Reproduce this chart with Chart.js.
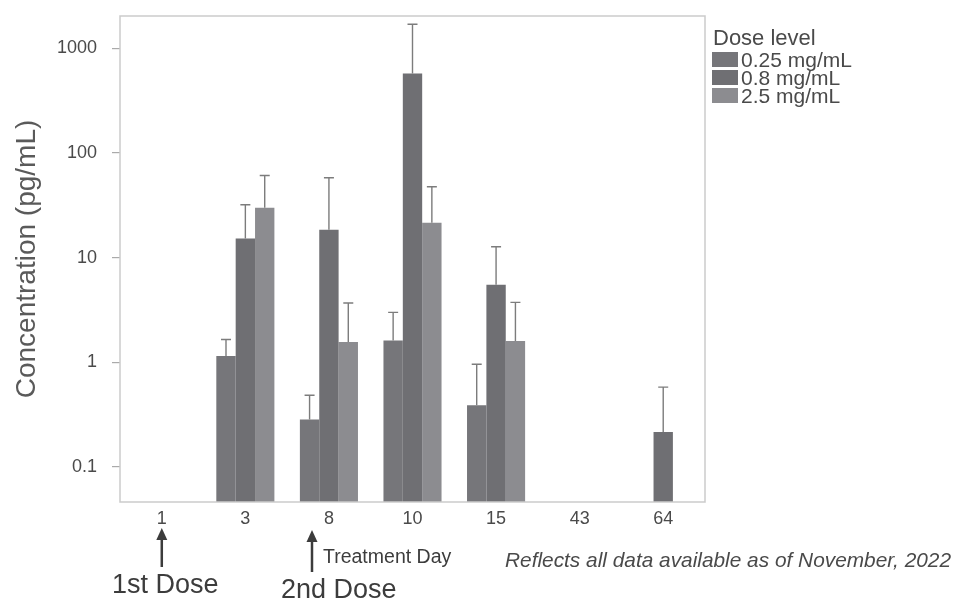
<!DOCTYPE html>
<html>
<head>
<meta charset="utf-8">
<script src="https://cdn.jsdelivr.net/npm/chart.js@4.4.0/dist/chart.umd.min.js"></script>
<style>
  html, body { margin: 0; padding: 0; background: #fff; }
  #wrap { width: 955px; height: 600px; position: relative; }
</style>
</head>
<body>
<div id="wrap"><canvas id="myChart" width="955" height="600"></canvas></div>
<script>
// treatment days and dose groups
var days = ['1', '3', '8', '10', '15', '43', '64'];
var doseLabels = ['0.25 mg/mL', '0.8 mg/mL', '2.5 mg/mL'];
var yTicks = [0.1, 1, 10, 100, 1000];

// mean concentration (pg/mL) per day
var low = [null, 1.15, 0.284, 1.62, 0.39, null, null];
var mid = [null, 15.2, 18.5, 575, 5.5, null, 0.216];
var high = [null, 30, 1.56, 21.6, 1.6, null, null];

// upper end of the error bar
var lowErr = [null, 1.65, 0.485, 3.0, 0.96, null, null];
var midErr = [null, 32, 58, 1700, 12.7, null, 0.58];
var highErr = [null, 61, 3.69, 47.6, 3.74, null, null];

var colors = ['#76767a', '#6f6f73', '#8c8c90'];
var FONT = "'Liberation Sans', Arial, sans-serif";

var errors = [lowErr, midErr, highErr];

const errorBars = {
    id: 'errorBars',
    afterDatasetsDraw(chart) {
        const ctx = chart.ctx;
        const yScale = chart.scales.y;
        ctx.save();
        ctx.strokeStyle = '#7c7c7c';
        ctx.lineWidth = 1.4;
        chart.data.datasets.forEach((ds, d) => {
            const meta = chart.getDatasetMeta(d);
            meta.data.forEach((bar, i) => {
                const top = errors[d][i];
                if (top == null || ds.data[i] == null) return;
                const yt = yScale.getPixelForValue(top);
                ctx.beginPath();
                ctx.moveTo(bar.x, bar.y);
                ctx.lineTo(bar.x, yt);
                ctx.moveTo(bar.x - 5, yt);
                ctx.lineTo(bar.x + 5, yt);
                ctx.stroke();
            });
        });
        ctx.restore();
    }
};

const frame = {
    id: 'frame',
    afterDraw(chart) {
        const ctx = chart.ctx;
        const a = chart.chartArea;
        ctx.save();
        ctx.strokeStyle = '#cbcbcb';
        ctx.lineWidth = 1.5;
        ctx.strokeRect(a.left, a.top, a.right - a.left, a.bottom - a.top);

        // legend
        ctx.fillStyle = '#4a4a4a';
        ctx.font = '22px ' + FONT;
        ctx.textBaseline = 'alphabetic';
        ctx.fillText('Dose level', 713, 45);
        ctx.font = '21px ' + FONT;
        doseLabels.forEach((lab, i) => {
            const y = 52 + i * 18;
            ctx.fillStyle = colors[i];
            ctx.fillRect(712, y, 26, 15);
            ctx.fillStyle = '#4a4a4a';
            ctx.fillText(lab, 741, y + 15);
        });

        // dose arrows
        const xs = chart.scales.x;
        const arrow = (x, yTip, yTail) => {
            ctx.strokeStyle = '#3c3c3c';
            ctx.fillStyle = '#3c3c3c';
            ctx.lineWidth = 2.5;
            ctx.beginPath();
            ctx.moveTo(x, yTip + 8);
            ctx.lineTo(x, yTail);
            ctx.stroke();
            ctx.beginPath();
            ctx.moveTo(x, yTip);
            ctx.lineTo(x - 5.5, yTip + 12);
            ctx.lineTo(x + 5.5, yTip + 12);
            ctx.closePath();
            ctx.fill();
        };
        arrow(xs.getPixelForValue(0), 528, 567);
        arrow(312, 530, 572);

        ctx.fillStyle = '#3c3c3c';
        ctx.font = '27px ' + FONT;
        ctx.fillText('1st Dose', 112, 593, 108);
        ctx.fillText('2nd Dose', 281, 598, 117);
        ctx.font = '19.5px ' + FONT;
        ctx.fillText('Treatment Day', 323, 563, 130);
        ctx.fillStyle = '#4a4a4a';
        ctx.font = 'italic 21px ' + FONT;
        ctx.fillText('Reflects all data available as of November, 2022', 505, 567, 446);
        ctx.restore();
    }
};

const noPad = (s) => { s.paddingTop = 0; s.paddingBottom = 0; s.paddingLeft = 0; s.paddingRight = 0; };

const data = {
    labels: days,
    datasets: [
        { label: doseLabels[0], data: low, backgroundColor: colors[0] },
        { label: doseLabels[1], data: mid, backgroundColor: colors[1] },
        { label: doseLabels[2], data: high, backgroundColor: colors[2] }
    ]
};

const config = {
    type: 'bar',
    data: data,
    options: {
        responsive: false,
        animation: false,
        layout: { padding: { top: 16, right: 250, left: 0, bottom: 0 } },
        datasets: { bar: { categoryPercentage: 0.695, barPercentage: 1.0, borderWidth: 0 } },
        plugins: { legend: { display: false }, tooltip: { enabled: false } },
        scales: {
            x: {
                grid: { display: false },
                border: { display: false },
                ticks: { color: '#4a4a4a', font: { family: FONT, size: 18 }, padding: -2 },
                afterFit: (s) => { s.height = 98; noPad(s); }
            },
            y: {
                type: 'logarithmic',
                min: 0.0463,
                max: 2036,
                bounds: 'data',
                afterBuildTicks: (s) => { s.ticks = yTicks.map(v => ({ value: v })); },
                grid: { drawOnChartArea: false, tickLength: 8, color: '#aaaaaa', lineWidth: 1.2 },
                border: { display: false },
                ticks: {
                    color: '#4a4a4a',
                    font: { family: FONT, size: 18 },
                    padding: 15,
                    callback: (v) => String(v)
                },
                title: {
                    display: true,
                    text: 'Concentration (pg/mL)',
                    color: '#5a5a5a',
                    font: { family: FONT, size: 28 },
                    padding: { top: 10, bottom: 0 }
                },
                afterFit: (s) => { s.width = 120; noPad(s); }
            }
        }
    },
    plugins: [errorBars, frame]
};

const myChart = new Chart(document.getElementById('myChart'), config);
</script>
</body>
</html>
